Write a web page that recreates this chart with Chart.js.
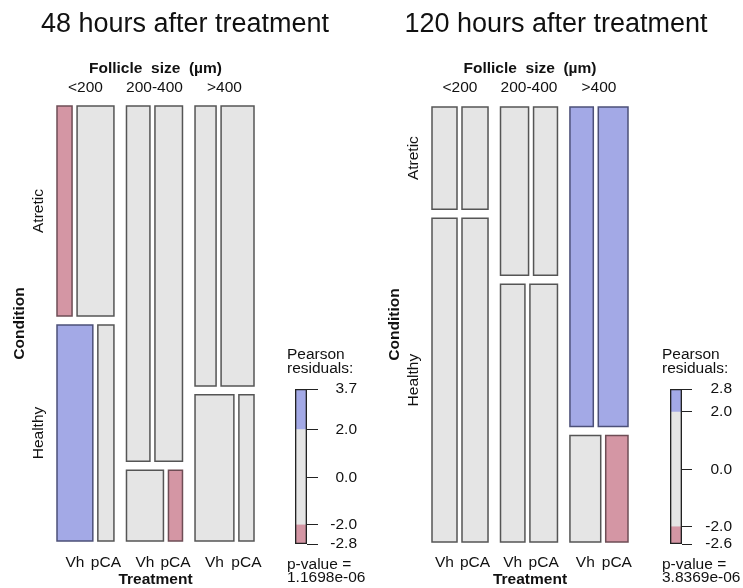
<!DOCTYPE html>
<html><head><meta charset="utf-8">
<script src="https://cdn.jsdelivr.net/npm/chart.js@4/dist/chart.umd.min.js"></script>
<style>
html,body{margin:0;padding:0;background:#fff;}
#wrap{position:relative;width:743px;height:588px;overflow:hidden;background:#fff;}
.panel{position:absolute;top:0;width:372px;height:588px;}
.panel canvas{position:absolute;left:0;top:0;}
</style></head><body>
<div id="wrap">
 <div class="panel" style="left:0"><canvas id="m48" width="372" height="588"></canvas><canvas id="l48" width="372" height="588"></canvas></div>
 <div class="panel" style="left:371px"><canvas id="m120" width="372" height="588"></canvas><canvas id="l120" width="372" height="588"></canvas></div>
</div>
<script>
// ---------- data ----------
const sizeLevels = ['<200', '200-400', '>400'];
const conditionLevels = ['Atretic', 'Healthy'];
const treatmentLevels = ['Vh', 'pCA'];
const titles = ['48 hours after treatment', '120 hours after treatment'];

// 48 h
const sizeShare48 = [0.331, 0.325, 0.344];        // share of each follicle size class
const atreticShare48 = [0.493, 0.834, 0.657];     // share atretic within size class
const vhShareAtretic48 = [0.29, 0.46, 0.39];      // share Vh within atretic
const vhShareHealthy48 = [0.69, 0.725, 0.72];     // share Vh within healthy
// residuals per size class: [Atretic-Vh, Atretic-pCA, Healthy-Vh, Healthy-pCA]
const residuals48 = [[-2.6, 0.9, 3.7, -1.4], [-0.3, 0.6, 1.1, -2.8], [-0.9, 1.0, 0.8, -1.5]];
const legendTicks48 = [-2.8, -2.0, 0.0, 2.0, 3.7];
const pValue48 = 1.1698e-6;

// 120 h
const sizeShare120 = [0.327, 0.333, 0.340];
const atreticShare120 = [0.24, 0.395, 0.75];
const vhShareAtretic120 = [0.49, 0.54, 0.44];
const vhShareHealthy120 = [0.49, 0.47, 0.58];
const residuals120 = [[-0.9, -1.1, 0.4, 0.5], [-0.6, -1.3, 0.7, 0.4], [2.3, 2.8, -1.0, -2.6]];
const legendTicks120 = [-2.6, -2.0, 0.0, 2.0, 2.8];
const pValue120 = 3.8369e-6;

const shadeThresholds = [-2, 2];

// ---------- style ----------
const FONT = '"Liberation Sans", Arial, sans-serif';
const TXT = '#111';
const BLUE = '#a3a9e6', PINK = '#d496a4', GREY = '#e5e5e5';
const G = 0.08, T = 0.032, V = 0.021; // gaps (group, treatment, condition)

function shade(r) { return r > shadeThresholds[1] ? BLUE : r < shadeThresholds[0] ? PINK : GREY; }
function edge(r) { return r > shadeThresholds[1] ? '#4c5078' : r < shadeThresholds[0] ? '#6e4d55' : '#555555'; }

function mosaicCells(shares, atr, vhA, vhH) {
  const cells = []; let cx = 0;
  shares.forEach((s, i) => {
    const rows = [[0, atr[i], vhA[i]], [atr[i] + V, 1 + V, vhH[i]]];
    rows.forEach(([y0, y1, f], c) => {
      cells.push({g: i, c, t: 0, x0: cx, x1: cx + s * f, y0, y1});
      cells.push({g: i, c, t: 1, x0: cx + s * f + T, x1: cx + s + T, y0, y1});
    });
    cx += s + T + G;
  });
  return {cells, xMax: cx - G};
}

function fmtP(p) { return p.toExponential(4).replace(/e([+-])(\d)$/, 'e$10$2'); }

function makePanel(id, title, shares, atr, vhA, vhH, res, pad) {
  const {cells, xMax} = mosaicCells(shares, atr, vhA, vhH);
  const datasets = cells.map(cl => {
    const r = res[cl.g][cl.c * 2 + cl.t];
    return {
      data: [{x: cl.x0, y: cl.y0}, {x: cl.x1, y: cl.y0}, {x: cl.x1, y: cl.y1}, {x: cl.x0, y: cl.y1}, {x: cl.x0, y: cl.y0}],
      fill: 'shape', backgroundColor: shade(r), borderColor: edge(r), borderWidth: 1.5,
      pointRadius: 0, tension: 0, clip: false, borderJoinStyle: 'miter', borderCapStyle: 'square'
    };
  });
  const textPlugin = {
    id: 'txt' + id,
    afterDraw(chart) {
      const ctx = chart.ctx, a = chart.chartArea, xs = chart.scales.x, ys = chart.scales.y;
      const cxA = (a.left + a.right) / 2, cyA = (a.top + a.bottom) / 2;
      ctx.save();
      ctx.fillStyle = TXT;
      ctx.textAlign = 'center';
      ctx.textBaseline = 'alphabetic';
      ctx.font = '27px ' + FONT;
      ctx.fillText(title, chart.width / 2 - 1, 32);
      ctx.textBaseline = 'middle';
      ctx.font = 'bold 15.5px ' + FONT;
      ctx.fillText('Follicle  size  (\u00b5m)', cxA, 69);
      ctx.fillText('Treatment', cxA, 580);
      ctx.font = '15.5px ' + FONT;
      // size class labels at group centres
      sizeLevels.forEach((lab, i) => {
        const g = cells.filter(c => c.g === i);
        const x0 = Math.min(...g.map(c => c.x0)), x1 = Math.max(...g.map(c => c.x1));
        ctx.fillText(lab, xs.getPixelForValue((x0 + x1) / 2), 88);
      });
      // treatment labels under healthy cells
      cells.filter(c => c.c === 1).forEach(c => {
        ctx.fillText(treatmentLevels[c.t], xs.getPixelForValue((c.x0 + c.x1) / 2), 563);
      });
      // condition labels (rotated)
      const rot = (txt, x, y, font) => {
        ctx.save(); ctx.translate(x, y); ctx.rotate(-Math.PI / 2);
        ctx.font = font; ctx.fillText(txt, 0, 0); ctx.restore();
      };
      rot('Condition', a.left - 37, cyA, 'bold 15.5px ' + FONT);
      conditionLevels.forEach((lab, ci) => {
        const c = cells.find(cl => cl.g === 0 && cl.c === ci && cl.t === 0);
        rot(lab, a.left - 18, ys.getPixelForValue((c.y0 + c.y1) / 2), '15.5px ' + FONT);
      });
      ctx.restore();
    }
  };
  return new Chart(document.getElementById(id), {
    type: 'line',
    data: {datasets},
    options: {
      responsive: false, animation: false, events: [],
      layout: {padding: pad},
      scales: {
        x: {type: 'linear', display: false, min: 0, max: xMax},
        y: {type: 'linear', display: false, min: 0, max: 1 + V, reverse: true}
      },
      plugins: {legend: {display: false}, tooltip: {enabled: false}}
    },
    plugins: [textPlugin]
  });
}

function makeLegend(id, ticks, pval, pad, tickLen, tickPad) {
  const lo = ticks[0], hi = ticks[ticks.length - 1];
  const seg = (a, b, col) => ({data: [[a, b]], backgroundColor: col, borderWidth: 0, grouped: false, barPercentage: 1, categoryPercentage: 1, order: 2});
  const lgPlugin = {
    id: 'lg' + id,
    afterDraw(chart) {
      const ctx = chart.ctx, a = chart.chartArea;
      ctx.save();
      ctx.fillStyle = TXT; ctx.textAlign = 'left'; ctx.textBaseline = 'middle';
      ctx.font = '15.5px ' + FONT;
      const x = a.left - 8;
      ctx.fillText('Pearson', x, 355);
      ctx.fillText('residuals:', x, 369);
      ctx.fillText('p-value =', x, 565);
      ctx.fillText(fmtP(pval), x, 578);
      ctx.restore();
    }
  };
  return new Chart(document.getElementById(id), {
    type: 'bar',
    data: {
      labels: ['r'],
      datasets: [
        seg(lo, shadeThresholds[0], PINK),
        seg(shadeThresholds[0], shadeThresholds[1], GREY),
        seg(shadeThresholds[1], hi, BLUE),
        {data: [[lo, hi]], backgroundColor: 'rgba(0,0,0,0)', borderColor: '#222', borderWidth: 1, borderSkipped: false, grouped: false, barPercentage: 1, categoryPercentage: 1, order: 0}
      ]
    },
    options: {
      responsive: false, animation: false, events: [],
      layout: {padding: pad},
      scales: {
        x: {display: false},
        y: {
          position: 'right', min: lo, max: hi,
          afterFit(s) { s.width = 50; },
          afterBuildTicks(s) { s.ticks = ticks.map(v => ({value: v})); },
          ticks: {autoSkip: false, crossAlign: 'far', padding: tickPad, color: TXT, font: {family: FONT, size: 15.5}, callback: v => Number(v).toFixed(1)},
          grid: {drawOnChartArea: false, tickLength: tickLen, color: '#222', lineWidth: 1},
          border: {display: false}
        }
      },
      plugins: {legend: {display: false}, tooltip: {enabled: false}}
    },
    plugins: [lgPlugin]
  });
}

makePanel('m48', titles[0], sizeShare48, atreticShare48, vhShareAtretic48, vhShareHealthy48, residuals48,
  {left: 57, right: 118, top: 106, bottom: 47});
makePanel('m120', titles[1], sizeShare120, atreticShare120, vhShareAtretic120, vhShareHealthy120, residuals120,
  {left: 61, right: 115, top: 107, bottom: 46});
makeLegend('l48', legendTicks48, pValue48, {left: 295, right: 15, top: 389, bottom: 44}, 11, 12);
makeLegend('l120', legendTicks120, pValue120, {left: 299, right: 11, top: 389, bottom: 44}, 10, 13);
</script>
</body></html>
